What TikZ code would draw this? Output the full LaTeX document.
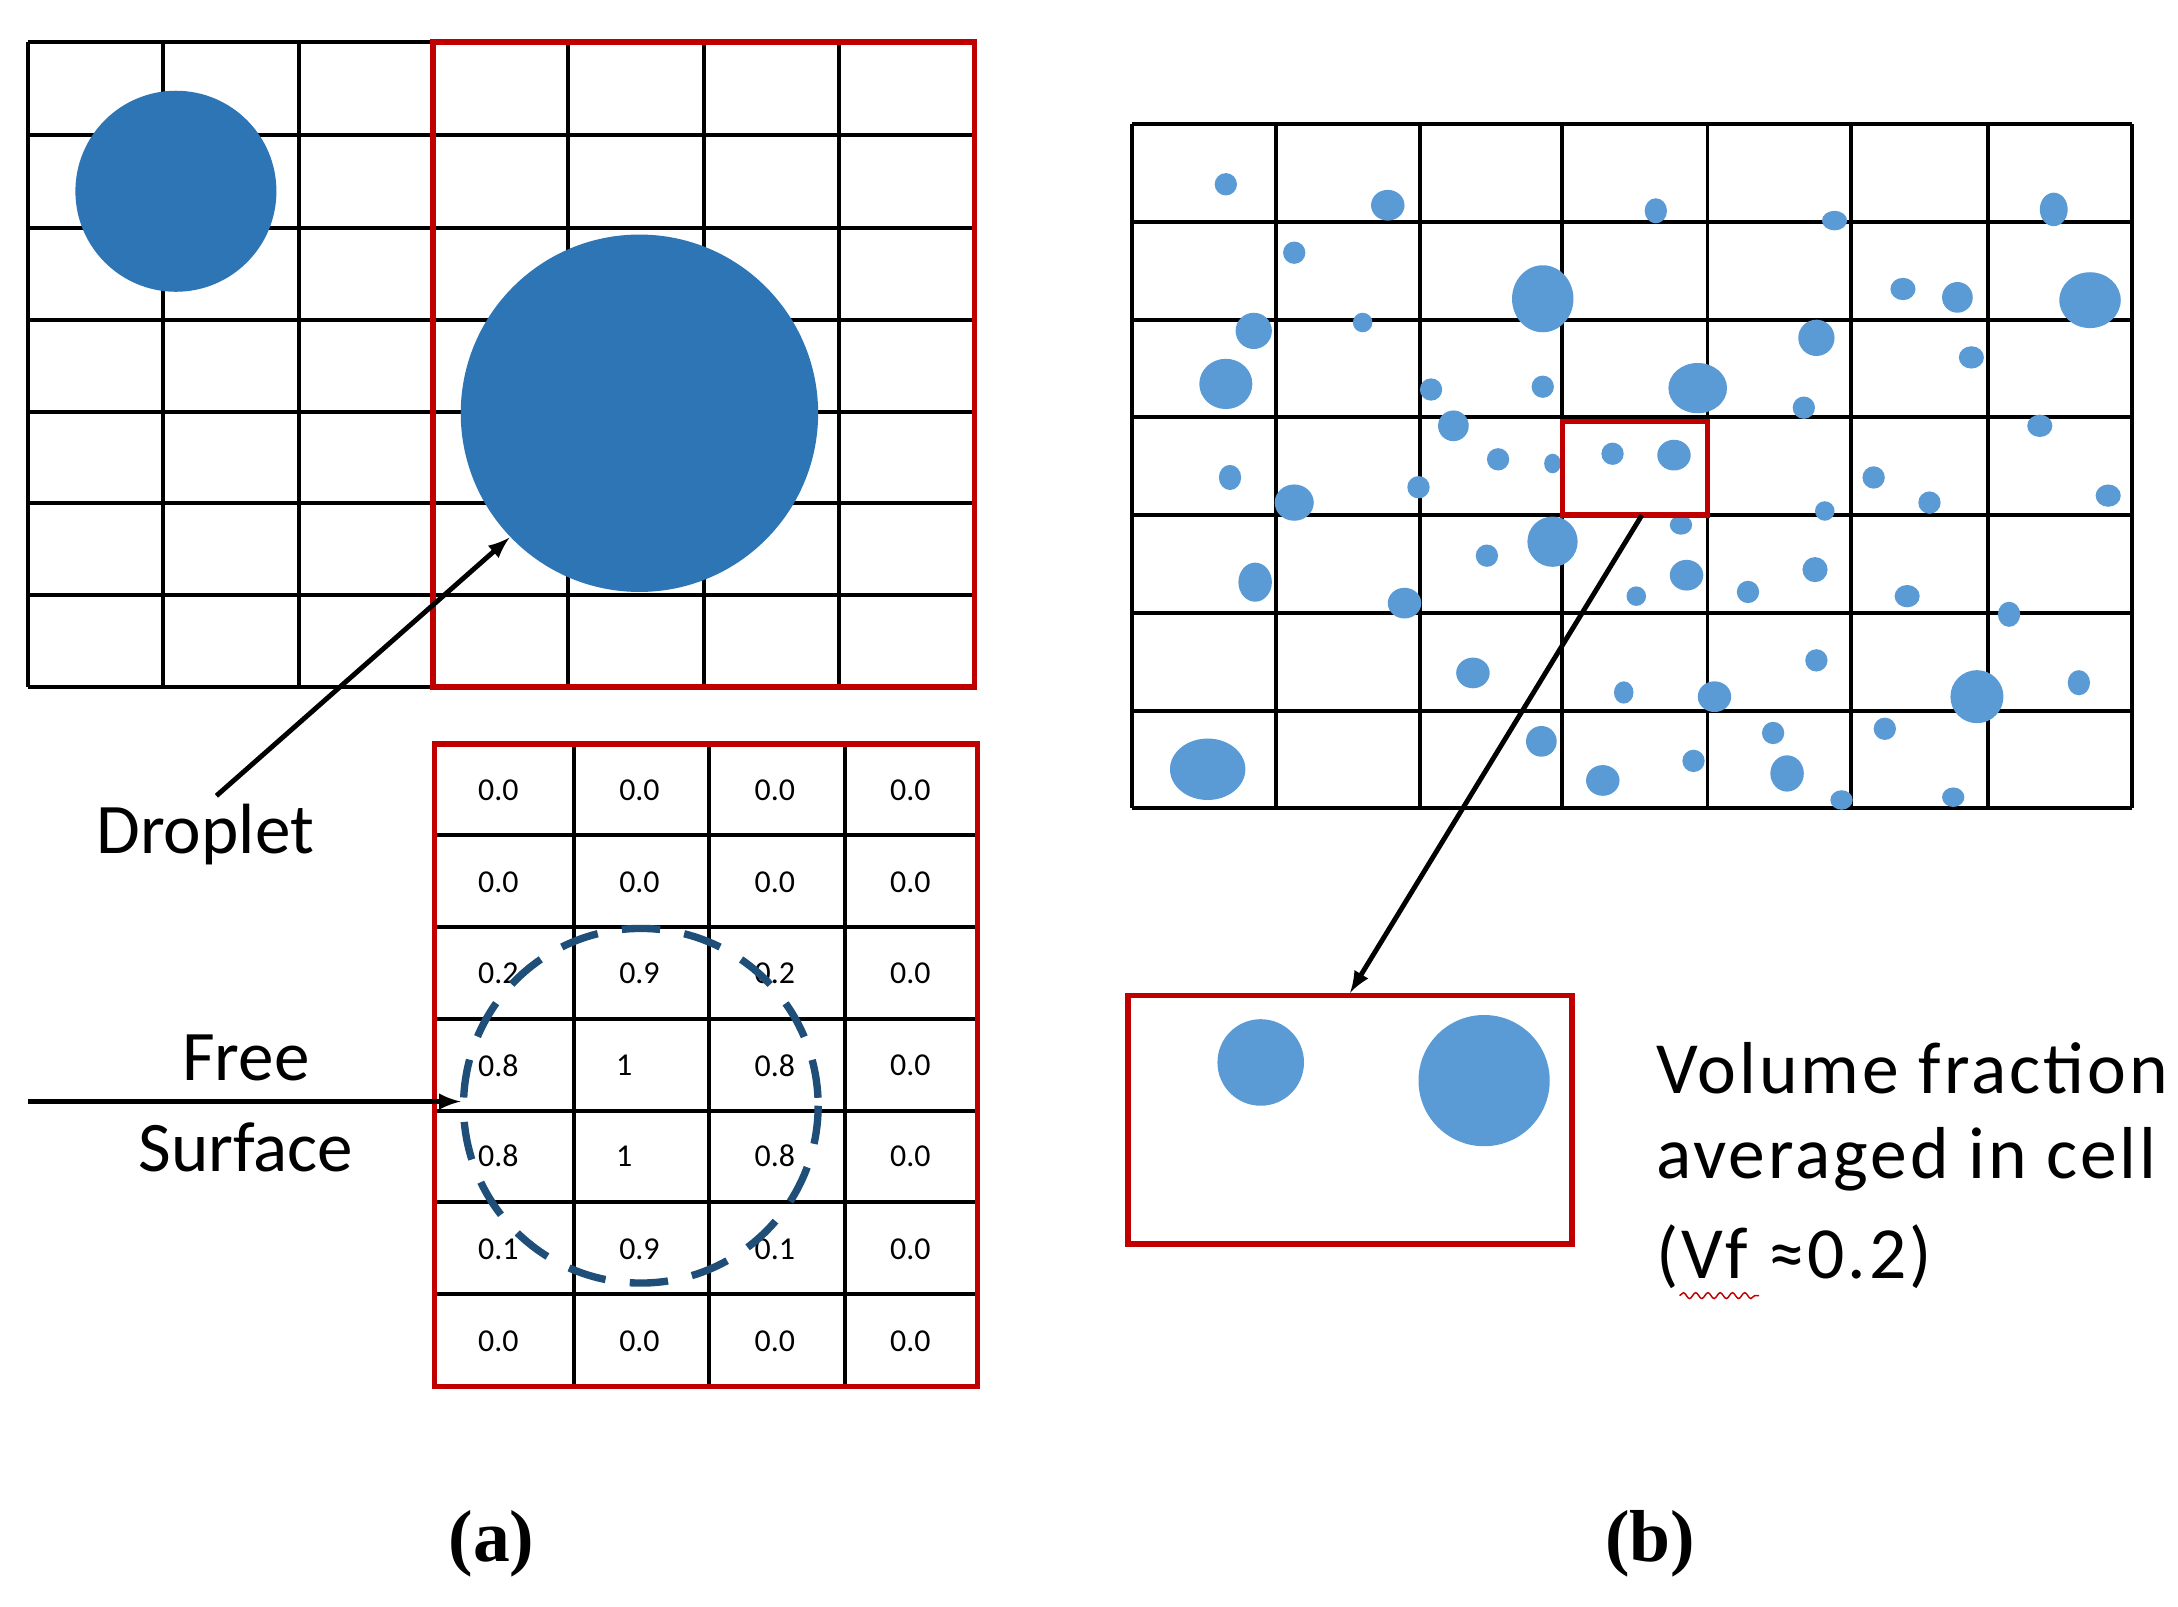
\documentclass[tikz,border=0pt]{standalone}
\usepackage{fontspec}
\setmainfont{Carlito}
\newfontfamily\serifb{Liberation Serif}
\usetikzlibrary{decorations.pathmorphing}
\definecolor{dropA}{HTML}{2E75B6}
\definecolor{dropB}{HTML}{5B9BD5}
\definecolor{redb}{HTML}{C00000}
\definecolor{dashblue}{HTML}{1F4E79}
\begin{document}
\begin{tikzpicture}[x=0.02cm,y=-0.02cm,
  gridl/.style={line width=1.6pt,black},
  redbox/.style={line width=2.2pt,draw=redb},
  arr/.style={line width=2pt,-latex},
  lbl/.style={font=\fontsize{29}{33}\selectfont},
  big/.style={font=\fontsize{30}{34}\selectfont\addfontfeature{LetterSpace=4}},
  num/.style={font=\fontsize{13}{15}\selectfont},
  captxt/.style={font=\serifb\bfseries\fontsize{30}{34}\selectfont}]
\useasboundingbox (0,0) rectangle (1560,1151);
% ---- (a) top grid
\foreach \x in {20,117,214,310,407,504,601,698} \draw[gridl] (\x,30) -- (\x,492);
\foreach \y in {30,97,163,229,295,360,426,492} \draw[gridl] (20,\y) -- (698,\y);
\fill[dropA] (126,137) circle (72);
\fill[dropA] (458,296) circle (128);
\draw[redbox] (310,30) rectangle (698,492);
\coordinate (dtip) at (365,385);
\node[lbl] (drop) at (147,598) {Droplet};
\draw[arr] (155,570) -- (dtip);
% ---- table
\foreach \x in {311,411,508,605,700} \draw[gridl] (\x,533) -- (\x,993);
\foreach \y in {533,598,664,730,796,861,927,993} \draw[gridl] (311,\y) -- (700,\y);
\draw[redbox] (311,533) rectangle (700,993);
\foreach \y/\a/\b/\c in {566/0.0/0.0/0.0, 632/0.0/0.0/0.0, 697/0.2/0.9/0.2, 895/0.1/0.9/0.1, 961/0.0/0.0/0.0}{
  \node[num] at (357,\y) {\a}; \node[num] at (458,\y) {\b}; \node[num] at (555,\y) {\c}; \node[num] at (652,\y) {0.0};}
\foreach \y in {763,828}{
  \node[num] at (357,\y) {0.8}; \node[num] at (447,\y) {1}; \node[num] at (555,\y) {0.8}; \node[num] at (652,\y) {0.0};}
\draw[dashblue,line width=3pt,dash pattern=on 0.55cm off 0.35cm] (459,792) circle (127);
\node[lbl] (fs1) at (176,758) {Free};
\node[lbl] (fs2) at (176,822) {Surface};
\coordinate (fsa) at (20,789); \coordinate (fsb) at (330,789);
\draw[arr] (fsa) -- (fsb);
\node[captxt] (ca) at (352,1106) {(a)};
% ---- (b) grid
\foreach \x in {811,914,1017,1119,1223,1326,1424,1527} \draw[gridl] (\x,89) -- (\x,579);
\foreach \y in {89,159,229,299,369,439,509,579} \draw[gridl] (811,\y) -- (1527,\y);
\foreach \x/\y/\rx/\ry in {878/132/8/8,994/147/12/11,1186/151/8/9,1314/158/9/7,1471/150/10/12,
927/181/8/8,1105/214/22/24,1363/207/9/8,1402/213/11/11,1497/215/22/20,
898/237/13/13,976/231/7/7,1301/242/13/13,878/275/19/18,1025/279/8/8,1105/277/8/8,1216/278/21/18,1292/292/8/8,1412/256/9/8,
1041/305/11/11,1073/329/8/8,1112/332/6/7,1155/325/8/8,1199/326/12/11,1461/305/9/8,
881/342/8/9,927/360/14/13,1016/349/8/8,1342/342/8/8,1382/360/8/8,1510/355/9/8,1307/366/7/7,1204/376/8/7,
1112/388/18/18,1065/398/8/8,899/417/12/14,1006/432/12/11,1172/427/7/7,1208/412/12/11,1252/424/8/8,1300/408/9/9,1366/427/9/8,1439/440/8/9,
1055/482/12/11,1163/496/7/8,1228/499/12/11,1301/473/8/8,1416/499/19/19,1489/489/8/9,
865/551/27/22,1104/531/11/11,1148/559/12/11,1213/545/8/8,1270/525/8/8,1280/554/12/13,1350/522/8/8,1319/573/8/7,1399/571/8/7}
  \fill[dropB] (\x,\y) ellipse [x radius=\rx, y radius=\ry];
\draw[redbox] (1119,302) rectangle (1223,369);
\coordinate (sel) at (1176,369);
\node[redbox,draw,minimum width=318*0.02cm,minimum height=178*0.02cm,inner sep=0] (zoom) at (967,802) {};
\fill[dropB] (903,761) circle (31);
\fill[dropB] (1063,774) circle (47);
\draw[arr] (sel) -- (zoom.north);
\node[big,anchor=west] (t1) at (1180,765) {Volume fraction};
\node[big,anchor=west] (t2) at (1180,830) {averaged in cell};
\node[big,anchor=west] (t3) at (1180,900) {(Vf ≈0.2)};
\draw[redb,line width=0.6pt,decorate,decoration={snake,amplitude=1.2,segment length=5}] (1203,928) -- (1260,928);
\node[captxt] (cb) at (1182,1106) {(b)};
\end{tikzpicture}
\end{document}
